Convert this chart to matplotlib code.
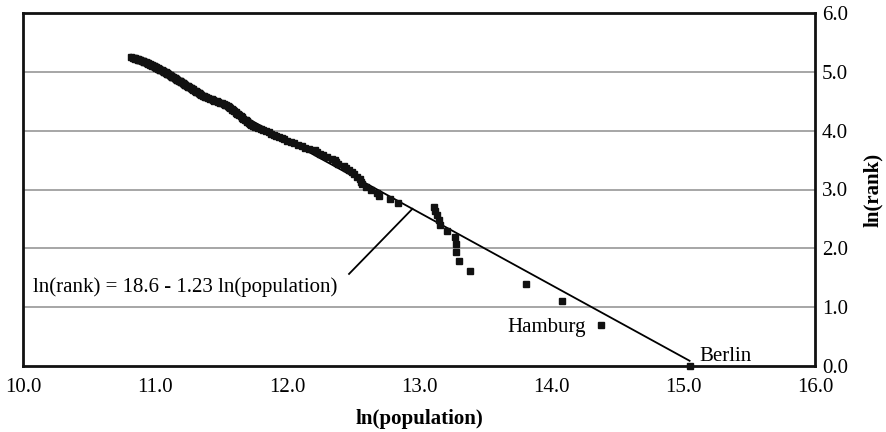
import numpy as np
import matplotlib
matplotlib.use("Agg")
import matplotlib.pyplot as plt

# Log of city population, ordered by rank (1 = largest city)
ln_population = [
    15.05, 14.38, 14.08, 13.81, 13.39, 13.30, 13.28, 13.28, 13.27, 13.21,
    13.16, 13.15, 13.14, 13.12, 13.11, 12.84, 12.78, 12.70, 12.68, 12.64,
    12.60, 12.57, 12.56, 12.55, 12.53, 12.51, 12.49, 12.47, 12.45, 12.43,
    12.39, 12.37, 12.36, 12.34, 12.30, 12.27, 12.25, 12.23, 12.21, 12.17,
    12.14, 12.11, 12.08, 12.05, 12.03, 12.00, 11.98, 11.96, 11.94, 11.92,
    11.90, 11.88, 11.86, 11.84, 11.82, 11.80, 11.78, 11.76, 11.74, 11.73,
    11.72, 11.71, 11.70, 11.70, 11.69, 11.68, 11.67, 11.66, 11.66, 11.65,
    11.64, 11.63, 11.62, 11.61, 11.61, 11.60, 11.59, 11.58, 11.58, 11.57,
    11.56, 11.56, 11.55, 11.54, 11.53, 11.52, 11.51, 11.49, 11.48, 11.47,
    11.45, 11.44, 11.43, 11.42, 11.40, 11.39, 11.38, 11.37, 11.36, 11.35,
    11.34, 11.34, 11.33, 11.33, 11.32, 11.31, 11.31, 11.30, 11.29, 11.29,
    11.28, 11.27, 11.27, 11.26, 11.25, 11.25, 11.24, 11.23, 11.23, 11.22,
    11.22, 11.21, 11.21, 11.20, 11.20, 11.19, 11.19, 11.18, 11.17, 11.17,
    11.16, 11.16, 11.15, 11.15, 11.14, 11.13, 11.13, 11.12, 11.12, 11.11,
    11.11, 11.10, 11.10, 11.09, 11.09, 11.08, 11.08, 11.07, 11.07, 11.06,
    11.06, 11.05, 11.04, 11.04, 11.03, 11.03, 11.02, 11.02, 11.01, 11.01,
    11.00, 11.00, 10.99, 10.99, 10.98, 10.98, 10.97, 10.96, 10.96, 10.95,
    10.95, 10.94, 10.94, 10.93, 10.92, 10.92, 10.91, 10.91, 10.90, 10.89,
    10.89, 10.88, 10.87, 10.87, 10.86, 10.85, 10.85, 10.84, 10.83, 10.82,
]
rank = np.arange(1, len(ln_population) + 1)
ln_rank = np.log(rank)

# Fitted rank-size regression
intercept = 18.6
slope = -1.23

x_ticks = [10.0, 11.0, 12.0, 13.0, 14.0, 15.0, 16.0]
y_ticks = [0.0, 1.0, 2.0, 3.0, 4.0, 5.0, 6.0]

plt.rcParams["font.family"] = ["Liberation Serif", "DejaVu Serif"]
FS = 15

fig = plt.figure(figsize=(8.86, 4.32), dpi=100)
ax = fig.add_axes([23 / 886, 1 - 366 / 432, (815 - 23) / 886, (366 - 13) / 432])

lnp = np.array(ln_population)
fit_x = np.array([lnp.min(), lnp.max()])
ax.plot(fit_x, intercept + slope * fit_x, color="black", lw=1.3, zorder=3)
ax.plot(lnp, ln_rank, ls="none", marker="s", ms=4.8, color="#111111",
        zorder=5, clip_on=False)

ax.set_xlim(10, 16)
ax.set_ylim(0, 6)
ax.set_xticks(x_ticks)
ax.set_xticklabels([f"{v:.1f}" for v in x_ticks])
ax.set_yticks(y_ticks)
ax.set_yticklabels([f"{v:.1f}" for v in y_ticks])
ax.yaxis.tick_right()
ax.yaxis.set_label_position("right")
ax.tick_params(axis="both", length=0, labelsize=FS)
ax.tick_params(axis="x", pad=9)
ax.tick_params(axis="y", pad=5)

for yv in y_ticks[1:-1]:
    ax.axhline(yv, color="#a6a6a6", lw=1.4, zorder=1)

for sp in ax.spines.values():
    sp.set_linewidth(2.0)
    sp.set_color("#111111")

ax.set_xlabel("ln(population)", fontsize=FS, fontweight="bold", labelpad=8)
ax.set_ylabel("ln(rank)", fontsize=FS, fontweight="bold", labelpad=11)

# Equation with a leader line to the fitted line
lead_x = 12.95
ax.plot([12.47, lead_x], [1.565, intercept + slope * lead_x],
        color="black", lw=1.3, zorder=3)
ax.text(12.38, 1.34, "ln(rank) = 18.6 - 1.23 ln(population)",
        ha="right", va="center", fontsize=FS)

ax.annotate("Hamburg", xy=(lnp[1], ln_rank[1]), xytext=(-11, -2),
            textcoords="offset points", ha="right", va="center", fontsize=FS)
ax.annotate("Berlin", xy=(lnp[0], ln_rank[0]), xytext=(7, 7),
            textcoords="offset points", ha="left", va="center", fontsize=FS)

fig.savefig("out.png", dpi=100)
